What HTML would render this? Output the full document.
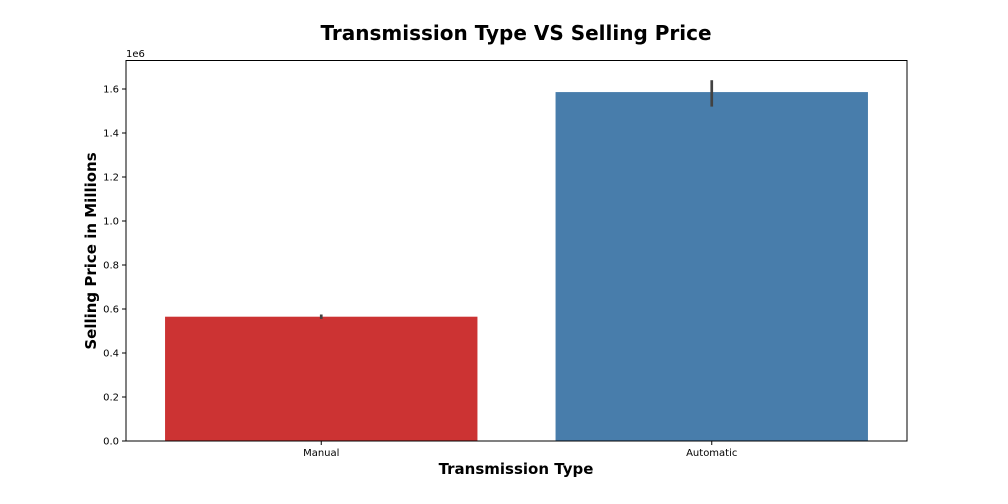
<!DOCTYPE html>
<html><head><meta charset="utf-8"><style>
body{margin:0;background:#fff;}
svg{display:block;font-family:"DejaVu Sans","Liberation Sans",sans-serif;}
</style></head><body>
<svg id="chart" width="1008" height="504" viewBox="0 0 1008 504">
<text x="516" y="40" text-anchor="middle" font-size="20" font-weight="bold">Transmission Type VS Selling Price</text>
<text x="126" y="57" font-size="10">1e6</text>
<g id="ticks"></g>
<g id="bars"></g>
<rect x="126" y="60.5" width="781" height="380.5" fill="none" stroke="#000" stroke-width="1"/>
<text x="516" y="474" text-anchor="middle" font-size="15" font-weight="bold">Transmission Type</text>
<text transform="translate(96,251) rotate(-90)" text-anchor="middle" font-size="15" font-weight="bold">Selling Price in Millions</text>
</svg>
<script>
const categories = ["Manual", "Automatic"];
const values = [0.565, 1.586];
const errLow = [0.555, 1.52];
const errHigh = [0.575, 1.64];
const yTicks = [0, 0.2, 0.4, 0.6, 0.8, 1.0, 1.2, 1.4, 1.6];
const yTickLabels = ["0.0","0.2","0.4","0.6","0.8","1.0","1.2","1.4","1.6"];
const colors = ["#cc3333", "#487dab"];

const NS = "http://www.w3.org/2000/svg";
const x0 = 126, x1 = 907, y0 = 441;
const yScale = v => y0 - v * 220;
const band = (x1 - x0) / categories.length;
const xCenter = i => x0 + band * (i + 0.5);
const barW = band * 0.8;

const tg = document.getElementById('ticks');
yTicks.forEach((t, i) => {
  const y = yScale(t);
  const ln = document.createElementNS(NS, 'line');
  ln.setAttribute('x1', x0 - 4); ln.setAttribute('x2', x0);
  ln.setAttribute('y1', y); ln.setAttribute('y2', y);
  ln.setAttribute('stroke', '#000');
  
  
  tg.appendChild(ln);
  const tx = document.createElementNS(NS, 'text');
  tx.setAttribute('x', x0 - 7); tx.setAttribute('y', y + 3.5);
  tx.setAttribute('text-anchor', 'end'); tx.setAttribute('font-size', '10');
  tx.textContent = yTickLabels[i];
  
  
  tg.appendChild(tx);
});

const bg = document.getElementById('bars');
categories.forEach((c, i) => {
  const cx = xCenter(i);
  const r = document.createElementNS(NS, 'rect');
  r.setAttribute('x', cx - barW / 2); r.setAttribute('width', barW);
  r.setAttribute('y', yScale(values[i])); r.setAttribute('height', y0 - yScale(values[i]));
  r.setAttribute('fill', colors[i]);
  
  
  bg.appendChild(r);
  const e = document.createElementNS(NS, 'line');
  e.setAttribute('x1', cx); e.setAttribute('x2', cx);
  e.setAttribute('y1', yScale(errLow[i])); e.setAttribute('y2', yScale(errHigh[i]));
  e.setAttribute('stroke', '#424242'); e.setAttribute('stroke-width', '2.7');
  
  
  bg.appendChild(e);
  const tk = document.createElementNS(NS, 'line');
  tk.setAttribute('x1', cx); tk.setAttribute('x2', cx);
  tk.setAttribute('y1', y0); tk.setAttribute('y2', y0 + 4);
  tk.setAttribute('stroke', '#000');
  
  
  bg.appendChild(tk);
  const lb = document.createElementNS(NS, 'text');
  lb.setAttribute('x', cx); lb.setAttribute('y', y0 + 15);
  lb.setAttribute('text-anchor', 'middle'); lb.setAttribute('font-size', '10');
  lb.textContent = c;
  
  
  bg.appendChild(lb);
});
</script>
</body></html>
